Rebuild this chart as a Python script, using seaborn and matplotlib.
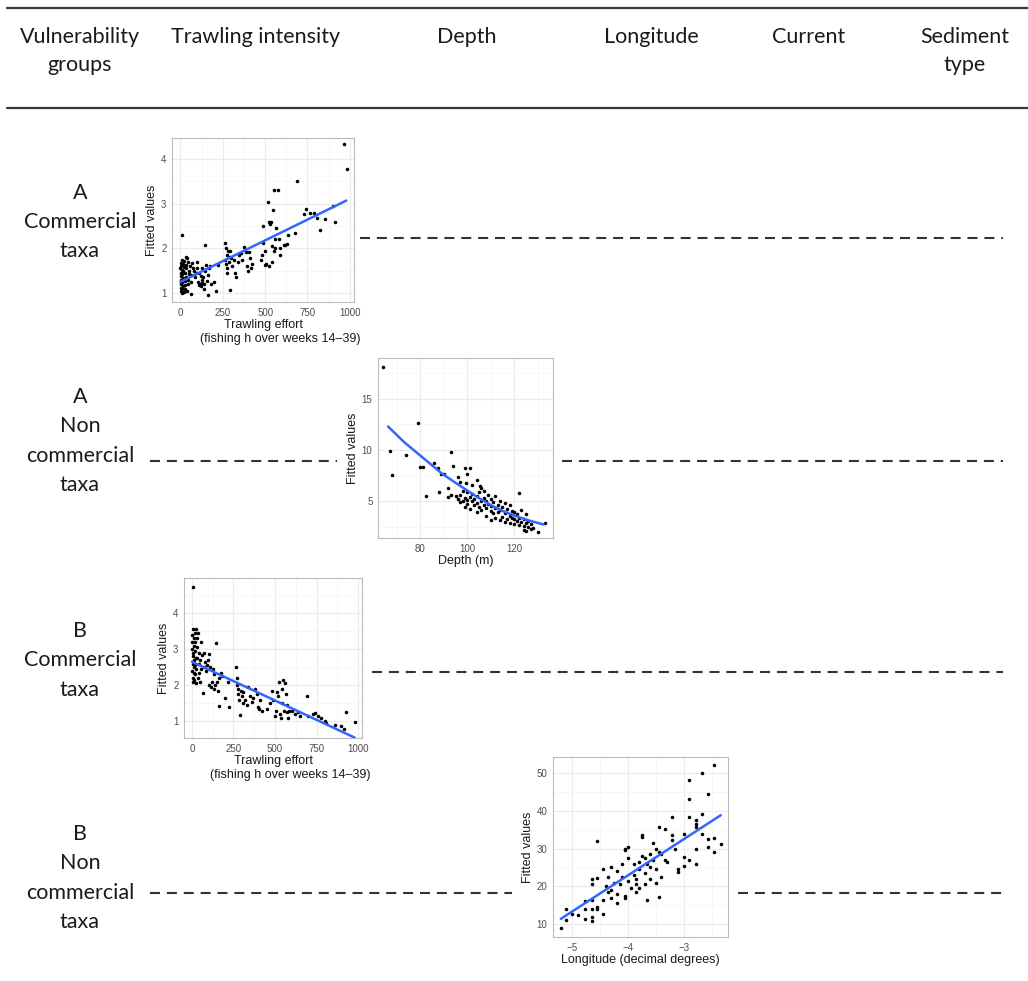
import numpy as np
import pandas as pd
import matplotlib.pyplot as plt
from matplotlib.ticker import MultipleLocator
import seaborn as sns

W, H = 1028, 981

# ---- data ----
header_labels = ["Vulnerability\ngroups", "Trawling intensity", "Depth", "Longitude", "Current", "Sediment\ntype"]
row_labels = ["A\nCommercial\ntaxa", "A\nNon\ncommercial\ntaxa", "B\nCommercial\ntaxa", "B\nNon\ncommercial\ntaxa"]

# A commercial: trawling effort vs fitted values
trawl_a = [2, 4, 5, 6, 3, 5, 7, 4, 6, 8, 10, 12, 14, 10, 15, 12, 16, 18, 13, 20, 22, 25, 28, 24, 30, 26, 32, 35,
           30, 38, 40, 42, 45, 48, 50, 55, 45, 60, 62, 65, 70, 75, 80, 85, 90, 95, 100, 10, 0, 1,
           105, 110, 115, 120, 125, 130, 135, 140, 145, 145, 150, 155, 160, 165, 170, 175, 180, 200, 210, 220,
           120, 130, 110, 140,
           263, 270, 275, 265, 268, 272, 280, 285, 290, 295, 300, 305, 315, 325, 330, 340, 345, 355, 365, 375,
           385, 395, 400, 405, 410, 415, 420, 275, 290,
           475, 480, 485, 490, 500, 505, 515, 520, 525, 530, 535, 540, 545, 550, 555, 560, 565, 575, 580, 585,
           590, 610, 620, 630, 636, 560, 540, 500,
           675, 689, 729, 740, 764, 788, 808, 822, 853, 900, 913, 966, 986]
fit_a = [1.05, 1.12, 1.2, 1.3, 1.38, 1.45, 1.52, 1.6, 1.68, 1.75, 1.0, 1.08, 1.15, 1.25, 1.33, 1.42, 1.5, 1.58,
         1.65, 1.72, 1.02, 1.1, 1.18, 1.27, 1.35, 1.45, 1.55, 1.62, 1.8, 1.78, 1.05, 1.2, 1.3, 1.42, 1.5, 1.6,
         1.7, 0.98, 1.25, 1.4, 1.68, 1.55, 1.5, 1.35, 1.45, 1.7, 1.55, 2.3, 1.55, 1.25,
         1.25, 1.18, 1.2, 1.15, 1.3, 1.22, 1.35, 1.2, 2.07, 1.5, 1.62, 1.28, 1.4, 0.95, 1.55, 1.6, 1.2, 1.25,
         1.05, 1.62, 1.38, 1.55, 1.45, 1.1,
         2.12, 2.0, 1.85, 1.75, 1.65, 1.55, 1.95, 1.7, 1.07, 1.95, 1.78, 1.6, 1.75, 1.45, 1.35, 1.7, 1.85, 1.9,
         1.75, 2.02, 1.92, 1.6, 1.5, 1.92, 1.78, 1.55, 1.65, 1.45, 1.8,
         1.75, 1.85, 2.5, 2.12, 1.95, 1.65, 3.03, 2.58, 1.6, 2.55, 2.58, 1.7, 2.85, 3.3, 1.95, 2.0, 2.45, 3.3,
         2.2, 2.0, 1.85, 2.07, 2.08, 2.1, 2.3, 2.2, 2.05, 1.62,
         2.35, 3.51, 2.76, 2.87, 2.79, 2.79, 2.67, 2.42, 2.65, 2.95, 2.58, 4.33, 3.77]
line_a_x = [0, 980]
line_a_y = [1.25, 3.07]

# A non commercial: depth vs fitted values
depth_an = [64, 67, 68, 74, 79, 80, 81, 82.5, 86, 87.5, 88, 89, 90, 92, 92, 93, 94, 96, 97, 99, 101, 100, 99.5,
            105.5, 104, 107, 102, 95, 93,
            96, 97, 97, 98, 98, 99, 99, 100, 100, 100, 101, 101, 102, 102, 103, 103, 104, 104, 104, 105, 105,
            106, 106, 106, 107, 107, 108, 108, 108, 109, 109, 110, 110, 110, 110, 111, 111, 112, 112, 112, 113,
            113, 114, 114, 114, 115, 115, 116, 116, 116, 117, 117, 118, 118, 118, 119, 119, 120, 120, 120, 121,
            121, 122, 122, 122, 123, 123, 124, 124, 124, 125, 125, 125, 126, 126, 127, 127, 128, 130, 133]
fit_an = [18.1, 9.9, 7.6, 9.5, 12.6, 8.3, 8.3, 5.5, 8.7, 8.2, 5.9, 7.7, 7.7, 6.3, 5.4, 9.8, 8.4, 7.4, 6.9, 8.2,
          8.2, 7.7, 6.8, 6.5, 7.1, 6.0, 6.6, 5.5, 5.6,
          5.2, 4.9, 5.6, 5.0, 6.0, 4.4, 5.3, 5.1, 4.7, 5.9, 5.4, 4.2, 5.0, 5.7, 4.6, 5.2, 3.9, 4.8, 5.5, 4.4,
          5.9, 4.1, 5.0, 6.3, 4.6, 5.3, 3.6, 4.3, 5.0, 4.7, 5.6, 3.2, 4.0, 4.5, 5.2, 3.8, 4.9, 3.4, 4.3, 5.5,
          3.9, 4.6, 3.2, 4.1, 5.0, 3.5, 4.4, 3.0, 3.8, 4.8, 3.3, 4.2, 2.9, 3.6, 4.6, 3.4, 4.0, 2.8, 3.3, 3.9,
          3.1, 3.7, 5.8, 2.7, 3.4, 3.0, 4.1, 2.6, 3.3, 2.2, 2.9, 3.7, 2.1, 2.5, 3.1, 2.3, 2.8, 2.4, 2.0, 2.9]
line_an_x = [66.3, 73, 80, 89.4, 95, 100, 105, 110.3, 115, 120, 126, 132.5]
line_an_y = [12.3, 10.8, 9.46, 7.67, 6.8, 6.04, 5.3, 4.58, 4.05, 3.6, 3.13, 2.72]

# B commercial: trawling effort vs fitted values
trawl_b = [0, 2, 3, 4, 5, 2, 6, 4, 8, 10, 12, 9, 11, 13, 10, 14, 16, 18, 20, 22, 19, 21, 24, 26, 28, 30, 32,
           27, 35, 38, 40, 42, 45, 48, 50, 52, 55, 60, 65, 70, 75, 80, 85, 90, 95, 100, 105, 110, 115, 120,
           125, 130, 135, 140, 147, 150, 155, 160, 165, 175, 180, 200, 215, 225, 6,
           265, 270, 272, 275, 280, 285, 290, 295, 300, 305, 310, 320, 330, 340, 350, 360, 370, 380, 390, 400,
           405, 410, 420, 450, 470, 480, 490, 500, 505, 510, 520, 525, 530, 535, 540, 545, 550, 555, 560, 565,
           570, 575, 580, 585, 600, 620, 640, 650, 690, 700, 730, 740, 760, 780, 800, 810, 860, 900, 915, 925,
           980]
fit_b = [3.4, 3.2, 3.0, 2.8, 2.6, 2.4, 2.2, 2.1, 3.55, 3.3, 3.1, 2.9, 2.7, 2.5, 2.35, 2.15, 3.45, 3.2, 2.95,
         2.75, 2.55, 2.3, 2.05, 3.55, 3.3, 3.05, 2.75, 2.45, 2.2, 3.45, 2.9, 2.6, 2.35, 2.1, 2.7, 2.45, 3.2,
         2.85, 1.79, 2.5, 2.9, 2.65, 2.4, 2.55, 2.7, 2.0, 2.86, 2.5, 1.95, 2.1, 2.45, 1.9, 2.3, 2.0, 3.18, 2.1,
         1.85, 1.42, 2.2, 2.35, 2.25, 1.65, 2.1, 1.39, 4.73,
         2.5, 2.2, 2.02, 1.9, 1.76, 1.6, 1.19, 1.85, 1.7, 1.5, 1.8, 1.6, 1.45, 1.95, 1.7, 1.55, 1.65, 1.9,
         1.75, 1.4, 1.35, 1.6, 1.3, 1.35, 1.5, 1.85, 1.6, 1.15, 1.3, 1.8, 1.7, 2.1, 1.2, 1.1, 1.9, 1.5, 2.15,
         1.3, 2.05, 1.75, 1.45, 1.25, 1.1, 1.3, 1.3, 1.2, 1.25, 1.15, 1.7, 1.15, 1.2, 1.22, 1.15, 1.08, 1.0,
         0.95, 0.9, 0.88, 0.78, 1.27, 0.98]
line_b_x = [0, 980]
line_b_y = [2.65, 0.55]

# B non commercial: longitude vs fitted values
lon_bn = [-5.2, -5.1, -5.1, -5.0, -4.9, -4.77, -4.77, -4.76, -4.65, -4.65, -4.65, -4.65, -4.65, -4.65,
          -4.55, -4.55, -4.55, -4.55, -4.45, -4.45, -4.45, -4.4, -4.35, -4.35, -4.3, -4.3, -4.3, -4.25, -4.2,
          -4.2, -4.2, -4.15, -4.1, -4.1, -4.05, -4.05, -4.05, -4.05, -4.0, -4.0, -4.0, -3.95, -3.9, -3.9,
          -3.85, -3.85, -3.85, -3.8, -3.8, -3.8, -3.75, -3.75, -3.75, -3.7, -3.7, -3.7, -3.65, -3.65, -3.6,
          -3.6, -3.6, -3.55, -3.55, -3.5, -3.5, -3.5, -3.45, -3.45, -3.45, -3.4, -3.4, -3.34, -3.34, -3.3,
          -3.22, -3.22, -3.22, -3.15, -3.11, -3.11, -3.0, -3.0, -3.0, -2.9, -2.9, -2.9, -2.9, -2.79, -2.79,
          -2.79, -2.79, -2.79, -2.67, -2.67, -2.67, -2.56, -2.56, -2.56, -2.46, -2.46, -2.46, -2.34]
fit_bn = [8.9, 13.9, 11.2, 12.7, 12.5, 16.1, 13.9, 11.4, 16.4, 11.8, 10.8, 14.1, 20.7, 22.0,
          32.0, 22.2, 14.5, 14.0, 24.5, 16.5, 12.8, 20.0, 18.5, 22.5, 25.0, 19.0, 17.0, 21.0, 24.0,
          18.0, 15.5, 20.5, 26.0, 22.5, 30.0, 29.5, 17.5, 17.0, 30.5, 27.5, 21.5, 19.5, 23.0, 26.0,
          18.5, 20.5, 22.0, 26.5, 24.5, 19.5, 33.5, 33.0, 28.0, 27.5, 23.5, 20.5, 16.5, 26.0, 22.0,
          28.5, 25.0, 31.5, 27.0, 24.5, 21.0, 30.0, 35.7, 29.1, 17.1, 28.5, 22.5, 35.2, 27.0, 26.5,
          38.3, 33.5, 32.2, 30.0, 24.6, 23.8, 33.9, 27.7, 25.5, 48.0, 43.2, 38.3, 27.0, 37.5, 36.6,
          35.7, 30.0, 26.0, 50.0, 39.2, 33.9, 44.5, 32.6, 30.4, 52.2, 32.8, 29.1, 31.3]
line_bn_x = [-5.2, -2.34]
line_bn_y = [11.4, 38.8]

# ---- style ----
sns.set_style("whitegrid")
plt.rcParams['font.family'] = ['Liberation Sans', 'DejaVu Sans']

fig = plt.figure(figsize=(W / 100, H / 100), dpi=100)

# overlay for the table rules, dashed lines and row text (pixel coords)
bg = fig.add_axes([0, 0, 1, 1])
bg.set_xlim(0, W)
bg.set_ylim(H, 0)
bg.axis("off")

bg.plot([7, W], [8, 8], color="#3a3a3a", lw=1.6)
bg.plot([7, W], [108, 108], color="#3a3a3a", lw=1.6)

table_font = ['Lato', 'DejaVu Sans']
header_x = [80, 256, 467, 651, 809, 965]
for hx, lab in zip(header_x, header_labels):
    hy = 51 if "\n" in lab else 37
    bg.text(hx, hy, lab, ha="center", va="center", fontsize=15.5, family=table_font,
            color="#1a1a1a", linespacing=1.55)

row_mid = [222, 441, 660.5, 878]
for ry, lab in zip(row_mid, row_labels):
    bg.text(80, ry, lab, ha="center", va="center", fontsize=15.5, family=table_font,
            color="#1a1a1a", linespacing=1.57)

dash = dict(color="#333333", lw=1.5, ls=(0, (4.8, 3.3)))
bg.plot([360, 1003], [238, 238], **dash)
bg.plot([150, 337], [461, 461], **dash)
bg.plot([562, 1003], [461, 461], **dash)
bg.plot([372, 1003], [672, 672], **dash)
bg.plot([150, 512], [893, 893], **dash)
bg.plot([738, 1003], [893, 893], **dash)


def panel(left, top, right, bottom):
    ax = fig.add_axes([left / W, 1 - bottom / H, (right - left) / W, (bottom - top) / H])
    ax.set_facecolor("white")
    ax.grid(which="major", color="#EBEBEB", lw=0.8)
    ax.grid(which="minor", color="#F4F4F4", lw=0.5)
    for s in ax.spines.values():
        s.set_color("#BBBBBB")
        s.set_linewidth(0.8)
    ax.tick_params(which="major", length=2.5, width=0.6, color="#444444", pad=1.5,
                   labelsize=7, labelcolor="#4D4D4D")
    ax.tick_params(which="minor", length=0)
    return ax


def draw(ax, x, y, lx, ly, xlim, ylim, xmaj, ymaj, xlabel):
    sns.scatterplot(x=x, y=y, ax=ax, color="black", s=6.5, linewidth=0, zorder=3)
    sns.lineplot(x=lx, y=ly, ax=ax, color="#3366FF", lw=1.8, zorder=4)
    ax.set_xlim(*xlim)
    ax.set_ylim(*ylim)
    ax.xaxis.set_major_locator(MultipleLocator(xmaj))
    ax.xaxis.set_minor_locator(MultipleLocator(xmaj / 2))
    ax.yaxis.set_major_locator(MultipleLocator(ymaj))
    ax.yaxis.set_minor_locator(MultipleLocator(ymaj / 2))
    ax.set_xlabel(xlabel, fontsize=9, color="#1a1a1a", labelpad=1)
    ax.set_ylabel("Fitted values", fontsize=9, color="#1a1a1a", labelpad=2)


trawl_label = "Trawling effort\n          (fishing h over weeks 14\u201339)"

ax1 = panel(172, 138, 354, 302)
draw(ax1, trawl_a, fit_a, line_a_x, line_a_y, (-50, 1025), (0.8, 4.47), 250, 1, trawl_label)

ax2 = panel(378, 358, 553, 538)
draw(ax2, depth_an, fit_an, line_an_x, line_an_y, (62, 136.5), (1.4, 19.0), 20, 5, "Depth (m)")

ax3 = panel(184, 578, 362, 738)
draw(ax3, trawl_b, fit_b, line_b_x, line_b_y, (-48, 1024), (0.54, 4.97), 250, 1, trawl_label)

ax4 = panel(553, 757, 728, 937)
draw(ax4, lon_bn, fit_bn, line_bn_x, line_bn_y, (-5.34, -2.21), (6.6, 54.2), 1, 10,
     "Longitude (decimal degrees)")
ax4.xaxis.set_major_formatter(plt.FuncFormatter(lambda v, p: f"{v:.0f}".replace("-", "\u2212")))

fig.savefig("out.png", dpi=100)
